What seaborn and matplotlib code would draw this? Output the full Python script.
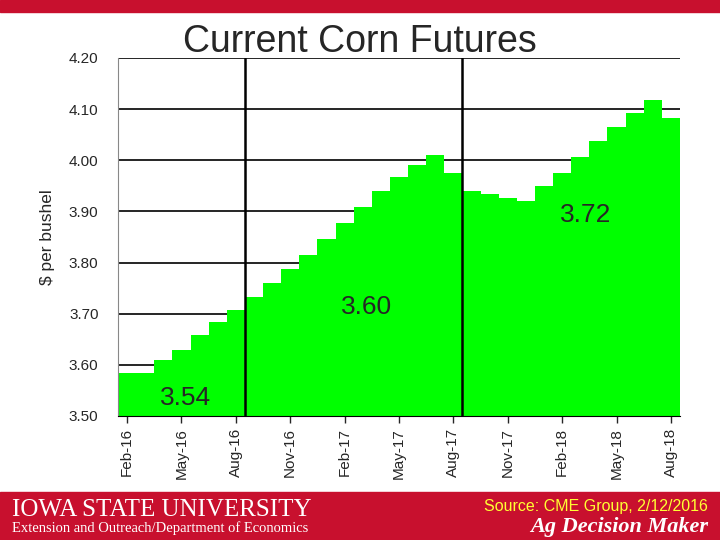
import matplotlib
matplotlib.use("Agg")
import matplotlib.pyplot as plt
import seaborn as sns
import pandas as pd
import numpy as np

months = ["Feb-16","Mar-16","Apr-16","May-16","Jun-16","Jul-16","Aug-16","Sep-16","Oct-16","Nov-16","Dec-16","Jan-17",
          "Feb-17","Mar-17","Apr-17","May-17","Jun-17","Jul-17","Aug-17","Sep-17","Oct-17","Nov-17","Dec-17","Jan-18",
          "Feb-18","Mar-18","Apr-18","May-18","Jun-18","Jul-18","Aug-18"]
prices = [3.584,3.584,3.610,3.630,3.658,3.683,3.707,3.733,3.760,3.788,3.815,3.846,
          3.878,3.908,3.939,3.968,3.990,4.010,3.975,3.940,3.934,3.927,3.921,3.949,
          3.976,4.006,4.037,4.065,4.092,4.117,4.083]
tick_labels = months[::3]
yticks = [3.50,3.60,3.70,3.80,3.90,4.00,4.10,4.20]
callouts = ["3.54","3.60","3.72"]

sns.set_style("white")
plt.rcParams['font.family'] = ['Liberation Sans', 'DejaVu Sans']

df = pd.DataFrame({"month": months, "price": prices})
fig = plt.figure(figsize=(7.2,5.4), dpi=100)
ax = fig.add_axes([118/720, 1-416/540, 562/720, 358/540])
for y in yticks:
    ax.axhline(y, color="black", lw=1.2, zorder=0)
sns.barplot(data=df, x="month", y="price", color="#00ff00", width=1.0,
            saturation=1, ax=ax, zorder=2, linewidth=0)
ax.set_ylim(3.50, 4.20)
ax.set_xlim(-0.5, len(months)-0.5)
ax.set_yticks(yticks)
ax.set_yticklabels([f"{v:.2f}" for v in yticks], fontsize=11)
ax.set_xticks(range(0, len(months), 3))
ax.set_xticklabels(tick_labels, rotation=90, fontsize=11)
ax.tick_params(axis="x", length=5, direction="out", bottom=True, width=1)
ax.tick_params(axis="y", length=0, pad=14)
ax.set_xlabel("")
ax.set_ylabel("$ per bushel", fontsize=12.5, labelpad=10)
for s in ["top","right"]:
    ax.spines[s].set_visible(False)
ax.spines["left"].set_color("#888888")
ax.spines["bottom"].set_color("black")
ax.axvline(6.5, color="black", lw=1.8, zorder=3)
ax.axvline(18.5, color="black", lw=1.8, zorder=3)
ax.text(3.2, 3.512, callouts[0], fontsize=19, ha="center", va="bottom", zorder=4)
ax.text(13.2, 3.69, callouts[1], fontsize=19, ha="center", va="bottom", zorder=4)
ax.text(25.3, 3.87, callouts[2], fontsize=19, ha="center", va="bottom", zorder=4)

fig.text(360/720, 1-42/540, "Current Corn Futures", fontsize=27, ha="center", va="center")
fig.patches.append(plt.Rectangle((0, 1-12/540), 1, 12/540, transform=fig.transFigure, color="#c8102e", zorder=0))
fig.patches.append(plt.Rectangle((0, 0), 1, 48/540, transform=fig.transFigure, color="#c8102e", zorder=0))
fig.text(12/720, 1-510/540, "IOWA STATE UNIVERSITY", fontsize=18, color="white", va="center", family="Liberation Serif")
fig.text(12/720, 1-528/540, "Extension and Outreach/Department of Economics", fontsize=10.5, color="white", va="center", family="Liberation Serif")
fig.text(708/720, 1-507/540, "Source: CME Group, 2/12/2016", fontsize=11.5, color="#ffff33", ha="right", va="center")
fig.text(708/720, 1-527/540, "Ag Decision Maker", fontsize=16, color="white", ha="right", va="center",
         family="Liberation Serif", style="italic", weight="bold")
fig.savefig("out.png", dpi=100)
